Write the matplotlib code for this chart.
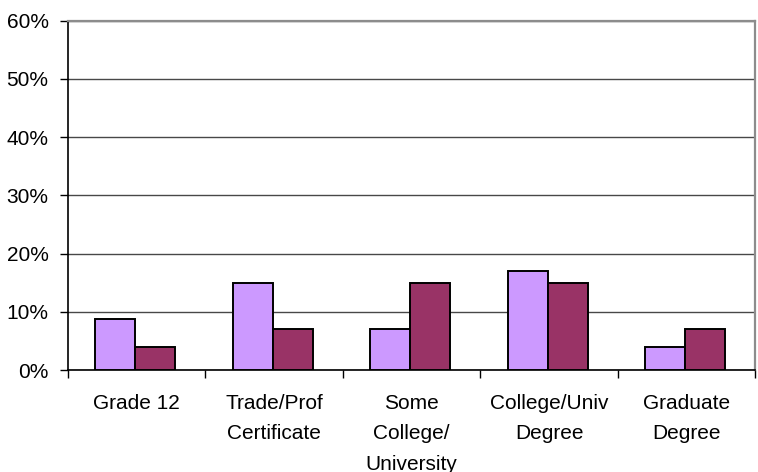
import matplotlib
matplotlib.use("Agg")
import matplotlib.pyplot as plt
import numpy as np
from matplotlib.ticker import FuncFormatter

plt.rcParams['font.family'] = ['Liberation Sans', 'DejaVu Sans']

categories = ["Grade 12", "Trade/Prof\nCertificate", "Some\nCollege/\nUniversity",
              "College/Univ\nDegree", "Graduate\nDegree"]
series_a = [8.8, 15, 7, 17, 4]
series_b = [4, 7, 15, 15, 7]
y_ticks = [0, 10, 20, 30, 40, 50, 60]

fig = plt.figure(figsize=(7.58, 4.72), dpi=100)
ax = fig.add_axes([0.0897, 0.2161, 0.9068, 0.74])

x = np.arange(len(categories))
w = 0.29
ax.bar(x - w / 2 - 0.01, series_a, w, color="#CC99FF", edgecolor="black", linewidth=1.4, zorder=3)
ax.bar(x + w / 2 - 0.01, series_b, w, color="#993366", edgecolor="black", linewidth=1.4, zorder=3)

ax.set_ylim(0, 60)
ax.set_xlim(-0.5, len(categories) - 0.5)
ax.set_yticks(y_ticks)
ax.yaxis.set_major_formatter(FuncFormatter(lambda v, p: f"{v:.0f}%"))
ax.yaxis.grid(True, color="#484848", linewidth=1.0, zorder=0)
ax.set_axisbelow(True)

# category labels centered, ticks at category boundaries
ax.set_xticks(x)
ax.set_xticklabels(categories, linespacing=1.74)
ax.set_xticks(np.arange(len(categories) + 1) - 0.5, minor=True)
ax.tick_params(axis="x", which="major", length=0, pad=17.5, labelsize=15)
ax.tick_params(axis="x", which="minor", length=6, width=1, color="black", direction="out")
ax.tick_params(axis="y", length=6, width=1, pad=8, labelsize=15, direction="out")

for side in ("left", "bottom"):
    ax.spines[side].set_color("black")
    ax.spines[side].set_linewidth(1.2)
for side in ("top", "right"):
    ax.spines[side].set_color("#8c8c8c")
    ax.spines[side].set_linewidth(1.6)

fig.savefig("out.png", dpi=100)
